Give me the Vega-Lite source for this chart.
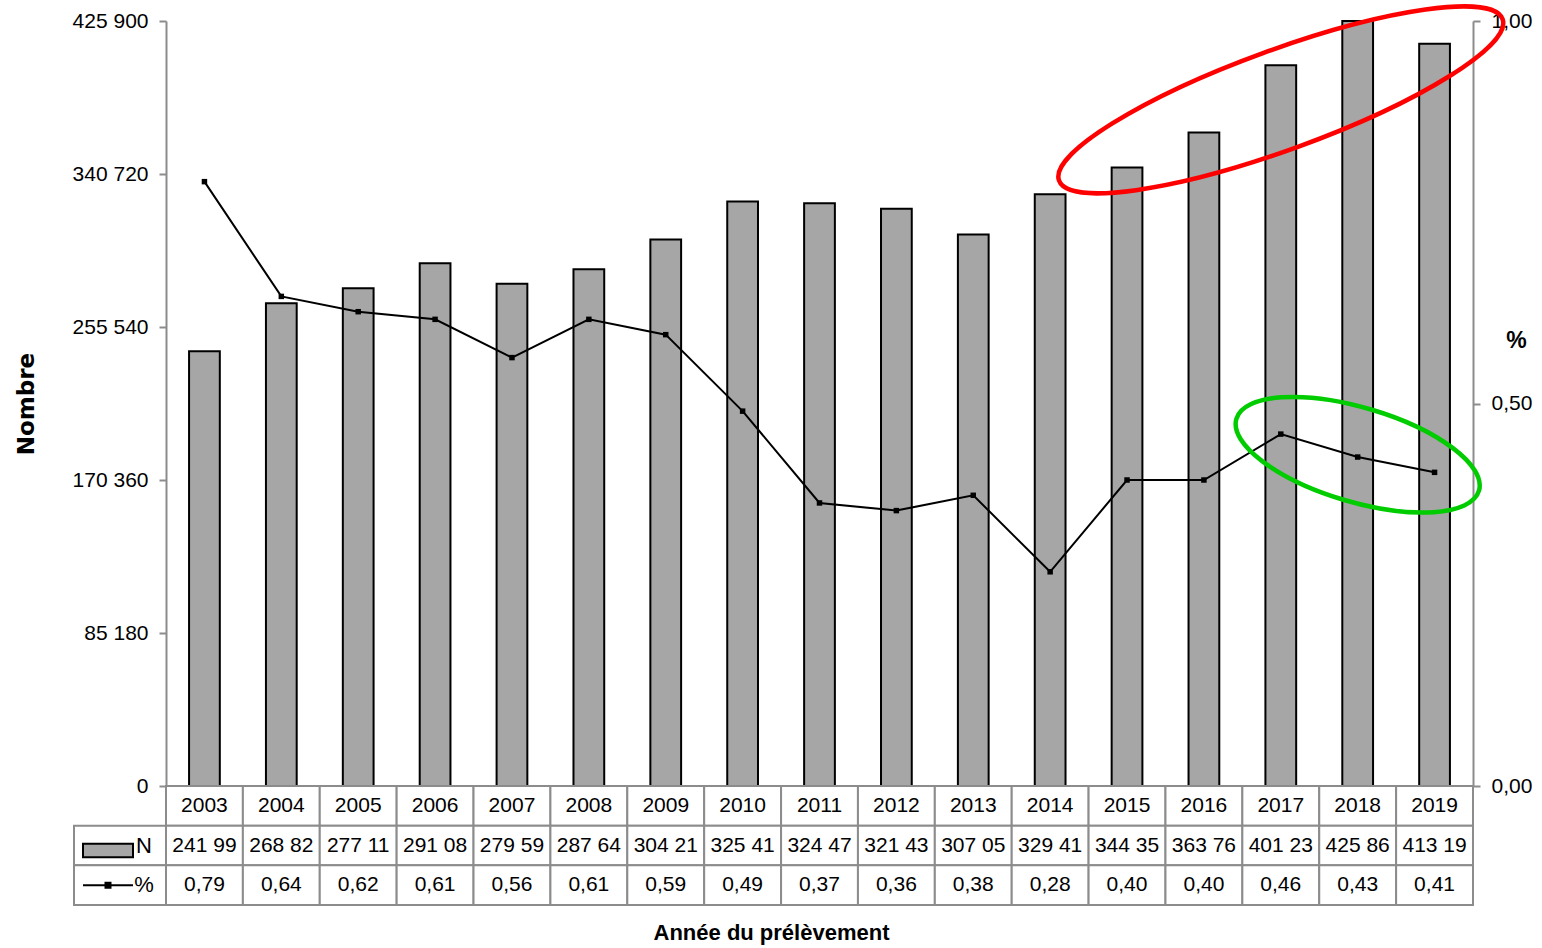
{
  "$schema": "https://vega.github.io/schema/vega-lite/v6.json",
  "background": "white",
  "padding": {"left": 15, "top": -3, "right": 8, "bottom": 5},
  "columns": 2,
  "spacing": 0,
  "bounds": "flush",
  "config": {
    "view": {"stroke": null},
    "font": "Liberation Sans",
    "axis": {
      "labelFont": "Liberation Sans",
      "labelFontSize": 21,
      "labelColor": "black",
      "domainColor": "#8c8c8c",
      "tickColor": "#8c8c8c",
      "domainWidth": 2,
      "tickWidth": 2,
      "grid": false,
      "labelFlush": false,
      "labelOverlap": false
    }
  },
  "datasets": {
    "main": [
      {"year": 2003, "N": 241995, "pct": 0.79},
      {"year": 2004, "N": 268825, "pct": 0.64},
      {"year": 2005, "N": 277115, "pct": 0.62},
      {"year": 2006, "N": 291085, "pct": 0.61},
      {"year": 2007, "N": 279595, "pct": 0.56},
      {"year": 2008, "N": 287645, "pct": 0.61},
      {"year": 2009, "N": 304215, "pct": 0.59},
      {"year": 2010, "N": 325415, "pct": 0.49},
      {"year": 2011, "N": 324475, "pct": 0.37},
      {"year": 2012, "N": 321435, "pct": 0.36},
      {"year": 2013, "N": 307055, "pct": 0.38},
      {"year": 2014, "N": 329415, "pct": 0.28},
      {"year": 2015, "N": 344355, "pct": 0.40},
      {"year": 2016, "N": 363765, "pct": 0.40},
      {"year": 2017, "N": 401235, "pct": 0.46},
      {"year": 2018, "N": 425865, "pct": 0.43},
      {"year": 2019, "N": 413195, "pct": 0.41}
    ],
    "ell_red": [{"year": 2017, "N": 382000}],
    "ell_green": [{"year": 2018, "pct": 0.433}],
    "rows": [{"row": "N"}, {"row": "%"}]
  },
  "concat": [
    {
      "width": 92,
      "height": 765,
      "data": {"values": [{"a": 1}]},
      "mark": {"type": "text"},
      "encoding": {"text": {"value": ""}}
    },
    {
      "width": 1307,
      "height": 765,
      "encoding": {
        "x": {
          "field": "year",
          "type": "ordinal",
          "scale": {"domain": [2003, 2004, 2005, 2006, 2007, 2008, 2009, 2010, 2011, 2012, 2013, 2014, 2015, 2016, 2017, 2018, 2019], "paddingInner": 0.6, "paddingOuter": 0.3},
          "axis": null
        }
      },
      "layer": [
        {
          "data": {"name": "main"},
          "mark": {"type": "bar", "fill": "#a6a6a6", "stroke": "black", "strokeWidth": 2},
          "encoding": {
            "y": {
              "field": "N",
              "type": "quantitative",
              "scale": {"domain": [0, 425900], "nice": false},
              "axis": {
                "orient": "left",
                "values": [0, 85180, 170360, 255540, 340720, 425900],
                "labelExpr": "replace(format(datum.value, ',d'), ',', ' ')",
                "tickSize": 7,
                "labelPadding": 11,
                "title": "Nombre",
                "titleFont": "DejaVu Sans",
                "titleFontWeight": "bold",
                "titleFontSize": 23,
                "titleColor": "black",
                "titleX": -140,
                "titleBaseline": "middle"
              }
            }
          }
        },
        {
          "data": {"name": "main"},
          "mark": {"type": "line", "color": "black", "strokeWidth": 2, "point": {"shape": "square", "size": 30, "filled": true, "color": "black"}},
          "encoding": {
            "y": {
              "field": "pct",
              "type": "quantitative",
              "scale": {"domain": [0, 1], "nice": false},
              "axis": {
                "orient": "right",
                "values": [0, 0.5, 1],
                "labelExpr": "replace(format(datum.value, '.2f'), '.', ',')",
                "tickSize": 7,
                "labelPadding": 11,
                "title": "%",
                "titleAngle": 0,
                "titleFont": "Liberation Sans",
                "titleFontWeight": "bold",
                "titleFontSize": 23,
                "titleColor": "black",
                "titleX": 43,
                "titleY": 319,
                "titleAlign": "center",
                "titleBaseline": "middle"
              }
            }
          }
        },
        {
          "data": {"name": "ell_red"},
          "mark": {"type": "point", "shape": "M 1 0 C 1 0.117 0.552 0.212 0 0.212 C -0.552 0.212 -1 0.117 -1 0 C -1 -0.117 -0.552 -0.212 0 -0.212 C 0.552 -0.212 1 -0.117 1 0 Z", "size": 222784, "filled": false, "stroke": "#ff0000", "strokeWidth": 4.5, "angle": -20, "opacity": 1},
          "encoding": {
            "y": {"field": "N", "type": "quantitative", "scale": {"domain": [0, 425900], "nice": false}, "axis": null}
          }
        },
        {
          "data": {"name": "ell_green"},
          "mark": {"type": "point", "shape": "M 1 0 C 1 0.206 0.552 0.373 0 0.373 C -0.552 0.373 -1 0.206 -1 0 C -1 -0.206 -0.552 -0.373 0 -0.373 C 0.552 -0.373 1 -0.206 1 0 Z", "size": 64009, "filled": false, "stroke": "#00cc00", "strokeWidth": 4.5, "angle": 16.5, "opacity": 1},
          "encoding": {
            "y": {"field": "pct", "type": "quantitative", "scale": {"domain": [0, 1], "nice": false}, "axis": null}
          }
        }
      ],
      "resolve": {"scale": {"y": "independent"}}
    },
    {
      "width": 92,
      "height": 119,
      "data": {"name": "rows"},
      "encoding": {
        "y": {"field": "row", "type": "nominal", "scale": {"domain": ["year", "N", "%"], "paddingInner": 0, "paddingOuter": 0}, "axis": null}
      },
      "layer": [
        {"mark": {"type": "rect", "fill": "white", "stroke": "#8c8c8c", "strokeWidth": 2}},
        {
          "transform": [{"filter": "datum.row === 'N'"}],
          "mark": {"type": "point", "shape": "M -1 -0.27 L 1 -0.27 L 1 0.27 L -1 0.27 Z", "size": 2500, "filled": true, "fill": "#a6a6a6", "stroke": "black", "strokeWidth": 2, "xOffset": -12, "yOffset": 5, "opacity": 1}
        },
        {
          "transform": [{"filter": "datum.row === '%'"}],
          "mark": {"type": "point", "shape": "M -1 0 L 1 0 M -0.1 -0.1 L 0.1 -0.1 L 0.1 0.1 L -0.1 0.1 Z", "size": 2500, "filled": true, "fill": "black", "stroke": "black", "strokeWidth": 2, "xOffset": -12, "opacity": 1}
        },
        {
          "mark": {"type": "text", "fontSize": 22, "xOffset": 24, "font": "Liberation Sans"},
          "encoding": {"text": {"field": "row", "type": "nominal"}}
        }
      ]
    },
    {
      "width": 1307,
      "height": 119,
      "data": {"name": "main"},
      "transform": [
        {"calculate": "slice(format(datum.N, 'd'), 0, 3) + ' ' + slice(format(datum.N, 'd'), 3, 5)", "as": "N_txt"},
        {"calculate": "replace(format(datum.pct, '.2f'), '.', ',')", "as": "pct_txt"}
      ],
      "encoding": {
        "x": {
          "field": "year",
          "type": "ordinal",
          "scale": {"domain": [2003, 2004, 2005, 2006, 2007, 2008, 2009, 2010, 2011, 2012, 2013, 2014, 2015, 2016, 2017, 2018, 2019], "paddingInner": 0, "paddingOuter": 0},
          "axis": {
            "orient": "bottom",
            "title": "Année du prélèvement",
            "labels": false,
            "ticks": false,
            "domain": false,
            "titleFont": "Liberation Sans",
            "titleFontWeight": "bold",
            "titleFontSize": 22,
            "titleColor": "black",
            "titleX": 605,
            "titleY": 27,
            "titleAlign": "center",
            "titleBaseline": "middle"
          }
        }
      },
      "layer": [
        {"mark": {"type": "rect", "fill": "white", "stroke": "#8c8c8c", "strokeWidth": 2}, "encoding": {"y": {"datum": "year", "type": "nominal", "scale": {"domain": ["year", "N", "%"], "paddingInner": 0, "paddingOuter": 0}, "axis": null}}},
        {"mark": {"type": "rect", "fill": "white", "stroke": "#8c8c8c", "strokeWidth": 2}, "encoding": {"y": {"datum": "N", "type": "nominal"}}},
        {"mark": {"type": "rect", "fill": "white", "stroke": "#8c8c8c", "strokeWidth": 2}, "encoding": {"y": {"datum": "%", "type": "nominal"}}},
        {"mark": {"type": "text", "fontSize": 21, "font": "Liberation Sans"}, "encoding": {"y": {"datum": "year", "type": "nominal"}, "text": {"field": "year", "type": "quantitative", "format": "d"}}},
        {"mark": {"type": "text", "fontSize": 21, "font": "Liberation Sans"}, "encoding": {"y": {"datum": "N", "type": "nominal"}, "text": {"field": "N_txt", "type": "nominal"}}},
        {"mark": {"type": "text", "fontSize": 21, "font": "Liberation Sans"}, "encoding": {"y": {"datum": "%", "type": "nominal"}, "text": {"field": "pct_txt", "type": "nominal"}}}
      ]
    }
  ]
}
